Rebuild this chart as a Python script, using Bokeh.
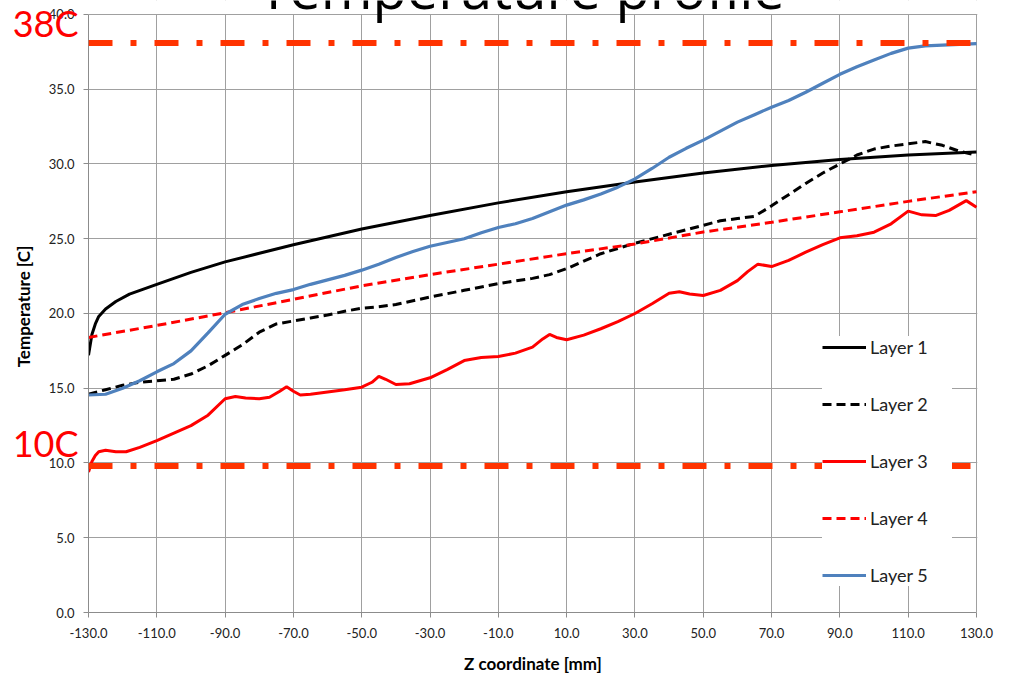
from bokeh.plotting import figure
from bokeh.models import (Range1d, FixedTicker, PrintfTickFormatter, Legend, LegendItem,
                          Span, Label, LinearAxis, BoxAnnotation)
from bokeh.embed import file_html
from bokeh.resources import INLINE

# ---------------- data ----------------
x_ticks = [-130, -110, -90, -70, -50, -30, -10, 10, 30, 50, 70, 90, 110, 130]
y_ticks = [0, 5, 10, 15, 20, 25, 30, 35, 40]

z_l1 = [-130, -129, -128, -127, -125, -122, -118, -110, -100, -90, -70, -50, -30, -10,
        10, 30, 50, 70, 90, 110, 130]
t_l1 = [17.2, 18.6, 19.3, 19.8, 20.3, 20.8, 21.3, 21.95, 22.75, 23.45, 24.6, 25.65, 26.55,
        27.4, 28.15, 28.8, 29.4, 29.9, 30.3, 30.6, 30.8]

z_l2 = [-130, -125, -120, -115, -110, -105, -100, -95, -90, -85, -80, -75, -70, -65, -60,
        -55, -50, -45, -40, -30, -20, -10, 0, 5, 10, 15, 20, 30, 40, 50, 55, 60, 65, 70,
        75, 80, 85, 90, 95, 100, 105, 110, 115, 120, 125, 130]
t_l2 = [14.6, 14.9, 15.2, 15.4, 15.5, 15.6, 15.95, 16.5, 17.2, 17.9, 18.75, 19.3, 19.5,
        19.7, 19.9, 20.15, 20.35, 20.45, 20.6, 21.1, 21.55, 22.0, 22.35, 22.6, 23.0, 23.5,
        24.0, 24.7, 25.3, 25.9, 26.2, 26.35, 26.5, 27.2, 27.95, 28.7, 29.4, 30.0, 30.6,
        31.0, 31.2, 31.35, 31.5, 31.25, 30.85, 30.6]

z_l3 = [-130, -129, -128, -127, -125, -122, -119, -115, -110, -105, -100, -95, -90, -87,
        -84, -80, -77, -74, -72, -70, -68, -65, -60, -55, -50, -47, -45, -43, -40, -36,
        -30, -25, -20, -15, -10, -5, 0, 3, 5, 7, 10, 15, 20, 25, 30, 35, 40, 43, 46, 50,
        55, 60, 63, 66, 70, 75, 80, 85, 90, 95, 100, 105, 110, 114, 118, 122, 127, 130]
t_l3 = [9.4, 10.1, 10.5, 10.75, 10.85, 10.75, 10.75, 11.05, 11.5, 12.0, 12.5, 13.2, 14.3,
        14.45, 14.35, 14.3, 14.4, 14.8, 15.1, 14.8, 14.55, 14.6, 14.75, 14.9, 15.07, 15.4,
        15.8, 15.6, 15.25, 15.3, 15.7, 16.25, 16.85, 17.05, 17.12, 17.35, 17.75, 18.3,
        18.6, 18.4, 18.24, 18.55, 18.98, 19.45, 20.0, 20.65, 21.35, 21.45, 21.3, 21.2,
        21.55, 22.2, 22.8, 23.3, 23.14, 23.55, 24.1, 24.6, 25.06, 25.2, 25.44, 26.0,
        26.85, 26.6, 26.55, 26.9, 27.55, 27.1]

z_l4 = [-130, -110, -90, -70, -50, -30, -10, 10, 30, 50, 70, 90, 110, 130]
t_l4 = [18.4, 19.2, 20.05, 20.95, 21.85, 22.6, 23.3, 24.0, 24.65, 25.45, 26.1, 26.8, 27.5,
        28.15]

z_l5 = [-130, -125, -120, -115, -110, -105, -100, -95, -90, -85, -80, -75, -70, -65, -60,
        -55, -50, -45, -40, -35, -30, -25, -20, -15, -10, -5, 0, 5, 10, 15, 20, 25, 30, 35,
        40, 45, 50, 55, 60, 65, 70, 75, 80, 85, 90, 95, 100, 105, 110, 115, 120, 125, 130]
t_l5 = [14.55, 14.6, 15.0, 15.5, 16.1, 16.65, 17.5, 18.7, 19.95, 20.6, 21.0, 21.35, 21.6,
        21.95, 22.25, 22.55, 22.9, 23.3, 23.75, 24.15, 24.5, 24.75, 25.0, 25.4, 25.75,
        26.0, 26.35, 26.8, 27.25, 27.6, 28.0, 28.45, 29.0, 29.7, 30.45, 31.05, 31.6,
        32.2, 32.8, 33.3, 33.8, 34.25, 34.8, 35.4, 36.0, 36.5, 36.95, 37.4, 37.75, 37.9,
        37.95, 38.0, 38.05]

series_names = ["Layer 1", "Layer 2", "Layer 3", "Layer 4", "Layer 5"]
limit_values = [38.1, 9.8]
limit_labels = ["38C", "10C"]
title_text = "Temperature profile"
x_label = "Z coordinate [mm]"
y_label = "Temperature [C]"

# ---------------- layout constants (positions, not data) ----------------
X_MIN, X_MAX = -130, 130
Y_MIN, Y_MAX = 0, 40
Y_TOP = 40.936          # frame reaches the canvas top so the title can show above 40
X_RIGHT = 130.293       # keeps the last grid line fully inside the frame
LIMIT_LABEL_POS = [39.59, 11.33]
TITLE_X, TITLE_Y = -3.2, 41.87

# ---------------- figure ----------------
W, H = 1000, 677
p = figure(width=W, height=H, output_backend="svg", toolbar_location=None,
           x_range=Range1d(X_MIN, X_RIGHT), y_range=Range1d(Y_MIN, Y_TOP),
           min_border_left=88, min_border_right=23, min_border_top=0, min_border_bottom=65)
p.background_fill_color = "white"
p.border_fill_color = "white"
p.outline_line_color = None

GRID = "#A0A0A0"
for ax, ticks, bnds in ((p.xaxis[0], x_ticks, (X_MIN, X_MAX)),
                        (p.yaxis[0], y_ticks, (Y_MIN, Y_MAX))):
    ax.ticker = FixedTicker(ticks=ticks)
    ax.bounds = bnds
    ax.formatter = PrintfTickFormatter(format="%.1f")
    ax.axis_line_color = "#8C8C8C"
    ax.major_tick_line_color = "#8C8C8C"
    ax.major_tick_out = 5
    ax.major_tick_in = 0
    ax.minor_tick_line_color = None
    ax.major_label_text_font = "Lato"
    ax.major_label_text_font_size = "13px"
    ax.major_label_text_color = "#222222"
    ax.axis_label_text_font = "Lato"
    ax.axis_label_text_font_style = "bold"
    ax.axis_label_text_font_size = "17px"
    ax.axis_label_text_color = "#000000"

p.xaxis.axis_label = x_label
p.yaxis.axis_label = y_label
p.xaxis.major_label_standoff = 10
p.yaxis.major_label_standoff = 9
p.xaxis.axis_label_standoff = 12
p.yaxis.axis_label_standoff = 12

# red "38C" / "10C" texts in the left margin (extra, line-less axis)
lim_axis = LinearAxis(ticker=FixedTicker(ticks=LIMIT_LABEL_POS),
                      major_label_overrides={LIMIT_LABEL_POS[0]: limit_labels[0],
                                             LIMIT_LABEL_POS[1]: limit_labels[1]},
                      axis_line_color=None, major_tick_line_color=None,
                      minor_tick_line_color=None, major_tick_out=0, major_tick_in=0,
                      major_label_standoff=-69, major_label_text_font="Lato",
                      major_label_text_font_size="36px", major_label_text_color="#FF0000")
p.add_layout(lim_axis, "left")

p.xgrid.ticker = FixedTicker(ticks=x_ticks)
p.ygrid.ticker = FixedTicker(ticks=y_ticks)
p.grid.grid_line_color = GRID
p.grid.grid_line_width = 1

r1 = p.line(z_l1, t_l1, line_color="#000000", line_width=3)
r2 = p.line(z_l2, t_l2, line_color="#000000", line_width=3, line_dash="9 5")
r3 = p.line(z_l3, t_l3, line_color="#FF0000", line_width=3)
r4 = p.line(z_l4, t_l4, line_color="#FF0000", line_width=3, line_dash="9 5")
r5 = p.line(z_l5, t_l5, line_color="#4F81BD", line_width=3.2)

# white strip above the 40 line (hides grid-line stubs there)
p.add_layout(BoxAnnotation(bottom=Y_MAX + 0.04, fill_color="white", fill_alpha=1.0,
                           line_color=None))
p.add_layout(Label(x=TITLE_X, y=TITLE_Y, text=title_text, text_font="Open Sans",
                   text_font_size="56px", text_color="#000000", text_align="center",
                   text_baseline="alphabetic"))

legend = Legend(items=[LegendItem(label=n, renderers=[r]) for n, r in
                       zip(series_names, [r1, r2, r3, r4, r5])],
                location=(734, 26), padding=16, spacing=35, margin=0,
                glyph_width=44, glyph_height=20, label_height=20, label_width=82,
                label_standoff=4, label_text_font="Lato", label_text_font_size="18px",
                label_text_color="#222222", background_fill_color="white",
                background_fill_alpha=1.0, border_line_color=None)
p.add_layout(legend, "center")

for v in limit_values:
    p.add_layout(Span(location=v, dimension="width", line_color="#FF3300",
                      line_width=6, line_dash="24 18 6 18"))

open("out.html", "w").write(file_html(p, INLINE))
